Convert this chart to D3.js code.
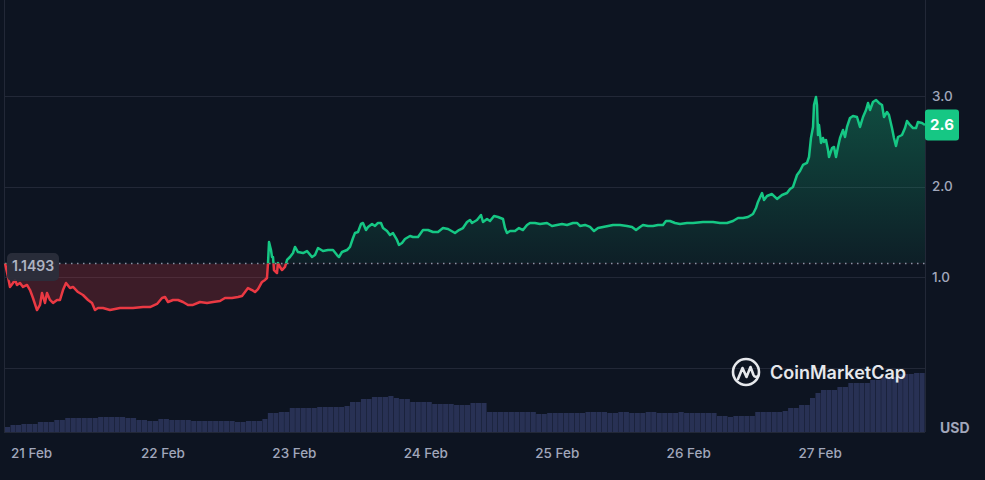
<!DOCTYPE html>
<html><head><meta charset="utf-8">
<script src="https://cdn.jsdelivr.net/npm/d3@7"></script>
<style>
html,body{margin:0;padding:0;background:#0d1421;}
svg{display:block;font-family:Inter,"Noto Sans",sans-serif;}
</style></head><body>
<svg id="chart" width="985" height="480"></svg>
<script>
// ---- data ----
const startTime = Date.UTC(2024, 1, 20, 19, 15); // first sample, 20 Feb 19:15 UTC
// hours after startTime
const hours = [
0,0.55,0.91,1.46,1.83,2.19,2.74,3.29,4.02,4.57,
5.11,5.84,6.39,6.76,7.30,7.67,8.22,8.77,9.50,10.04,
10.59,11.14,11.87,12.42,13.33,14.24,15.16,15.89,16.43,16.98,
17.90,19.17,21.00,23.37,25.20,26.48,27.76,28.67,29.22,29.77,
30.68,31.59,32.50,33.42,34.33,35.61,36.89,37.98,39.26,40.17,
41.45,42.55,43.28,43.83,44.37,45.10,45.65,46.20,46.93,47.48,
47.84,48.03,48.21,48.57,48.76,48.94,49.12,49.67,49.85,50.22,
50.58,51.13,51.50,52.04,52.59,52.96,53.50,54.42,55.15,56.06,
56.61,57.16,58.07,58.98,59.90,60.63,60.99,61.54,62.45,63.00,
63.55,63.91,64.46,65.01,65.37,65.92,66.29,67.02,67.57,68.11,
68.66,69.03,69.76,70.30,70.85,71.58,71.95,72.50,73.04,73.96,
74.50,75.42,76.33,77.24,78.16,79.07,79.98,80.90,82.17,82.90,
83.63,84.37,84.91,85.28,86.19,86.92,87.29,88.02,88.57,89.30,
90.03,90.94,91.30,91.67,92.22,93.13,93.86,94.59,95.32,95.87,
96.78,97.70,98.97,99.89,100.80,101.71,102.63,103.72,104.45,105.00,
105.91,106.83,107.56,108.29,109.20,110.12,111.03,112.30,113.58,114.50,
115.23,115.96,116.50,117.42,118.33,119.24,120.16,120.70,121.43,122.35,
123.26,124.54,125.63,127.46,129.29,130.57,131.84,132.94,133.85,134.77,
135.68,136.59,137.14,137.50,138.24,138.60,139.15,140.06,140.97,141.89,
142.80,143.35,143.90,144.63,145.17,145.72,146.45,146.82,147.18,147.55,
147.73,148.09,148.28,148.46,148.64,149.01,149.37,149.56,149.92,150.29,
150.47,151.02,151.38,151.75,152.11,152.48,153.03,153.39,153.76,154.30,
154.85,155.58,156.13,156.68,157.23,157.59,157.96,158.50,159.05,159.60,
160.15,160.51,161.06,161.42,161.97,162.33,162.70,163.07,163.80,164.35,
164.71,165.26,165.81,166.36,166.72,167.45,168.00
];
// price in USD
const prices = [
1.152,1.000,0.890,0.934,0.967,0.912,0.934,0.890,0.912,0.856,
0.768,0.635,0.691,0.823,0.713,0.823,0.746,0.713,0.746,0.746,
0.856,0.934,0.878,0.890,0.834,0.801,0.746,0.713,0.635,0.657,
0.657,0.635,0.657,0.657,0.668,0.668,0.702,0.768,0.779,0.724,
0.746,0.746,0.724,0.691,0.691,0.724,0.713,0.724,0.735,0.768,
0.768,0.779,0.790,0.834,0.878,0.856,0.834,0.867,0.945,0.967,
0.989,1.155,1.387,1.298,1.221,1.221,1.077,1.044,1.155,1.111,
1.077,1.111,1.188,1.221,1.265,1.332,1.276,1.265,1.287,1.221,
1.243,1.320,1.287,1.298,1.298,1.243,1.221,1.276,1.298,1.332,
1.431,1.486,1.497,1.586,1.597,1.519,1.553,1.586,1.564,1.597,
1.597,1.541,1.508,1.464,1.486,1.409,1.354,1.376,1.420,1.453,
1.442,1.442,1.519,1.519,1.497,1.497,1.541,1.530,1.486,1.519,
1.541,1.608,1.630,1.597,1.630,1.685,1.608,1.641,1.619,1.674,
1.663,1.641,1.541,1.486,1.508,1.508,1.541,1.519,1.575,1.597,
1.597,1.586,1.597,1.564,1.575,1.586,1.575,1.597,1.597,1.564,
1.575,1.553,1.508,1.541,1.553,1.564,1.575,1.575,1.564,1.553,
1.519,1.553,1.575,1.564,1.564,1.575,1.575,1.619,1.619,1.597,
1.586,1.597,1.597,1.608,1.608,1.597,1.597,1.619,1.652,1.652,
1.663,1.696,1.762,1.829,1.928,1.851,1.895,1.917,1.862,1.906,
1.928,1.972,1.995,2.127,2.171,2.238,2.260,2.326,2.536,2.658,
2.901,2.989,2.901,2.569,2.680,2.481,2.536,2.492,2.514,2.403,
2.326,2.425,2.437,2.326,2.437,2.536,2.624,2.547,2.658,2.757,
2.779,2.768,2.658,2.768,2.845,2.923,2.845,2.934,2.956,2.923,
2.901,2.768,2.823,2.790,2.646,2.536,2.448,2.547,2.569,2.646,
2.724,2.680,2.646,2.646,2.713,2.702,2.680
];
// hourly volume (relative units, one value per hour)
const volumes = [
5,7,7,8,8,8,10,10,10,12,
12,14,14,14,14,14,14,15,15,15,
15,15,14,14,12,12,11,11,13,13,
12,12,12,12,11,11,11,11,11,11,
11,11,10,10,11,11,11,13,19,19,
20,20,24,24,24,24,24,25,25,25,
25,25,26,30,30,33,33,35,35,35,
36,34,33,33,30,30,30,30,28,28,
28,28,27,27,27,29,29,29,20,20,
20,20,20,20,20,20,20,18,18,19,
19,19,19,19,19,19,20,20,20,20,
19,19,20,20,19,19,19,20,20,19,
19,19,19,20,19,19,19,19,19,19,
16,16,15,16,16,16,16,20,20,20,
20,20,21,24,24,27,27,34,39,42,
42,42,45,45,49,49,49,49,52,52,
55,55,55,58,58,58,59,59
];
const priceTicks = [1, 2, 3];
const baselinePrice = 1.1493;
const currency = "USD";
const brand = "CoinMarketCap";

// ---- layout ----
const W = 985, H = 480;
const left = 5, right = 925;
const priceTop = 5.5, priceBottom = 367.5;
const volTop = 368, volBottom = 432;
const GREEN = "#16c784", RED = "#ea3943", GRID = "#222837", TEXT = "#a1a7bb";

const svg = d3.select("#chart");
svg.append("rect").attr("width", W).attr("height", H).attr("fill", "#0d1421");

const x = d3.scaleUtc()
  .domain([new Date(startTime), new Date(startTime + 168 * 3600e3)])
  .range([left, right]);
const y = d3.scaleLinear().domain([0, 4]).range([priceBottom, priceTop]);
const yv = d3.scaleLinear().domain([0, 64]).range([volBottom, volTop]);

const data = hours.map((h, i) => ({ t: new Date(startTime + h * 3600e3), v: prices[i] }));
const yb = y(baselinePrice);

// ---- grid & borders ----
const grid = svg.append("g").attr("stroke", GRID).attr("stroke-width", 1).attr("shape-rendering", "crispEdges");
[0, ...priceTicks].forEach(v => {
  grid.append("line").attr("x1", left - 1).attr("x2", right).attr("y1", Math.round(y(v)) + 0.5).attr("y2", Math.round(y(v)) + 0.5);
});
grid.append("line").attr("x1", left - 1).attr("x2", right).attr("y1", volBottom + 0.5).attr("y2", volBottom + 0.5);
grid.append("line").attr("x1", left - 0.5).attr("x2", left - 0.5).attr("y1", 0).attr("y2", volBottom);
grid.append("line").attr("x1", right + 0.5).attr("x2", right + 0.5).attr("y1", 0).attr("y2", volBottom);

// ---- volume bars ----
const step = (x(new Date(startTime + 3600e3)) - x(new Date(startTime)));
svg.append("g").selectAll("rect").data(volumes).join("rect")
  .attr("x", (d, i) => x(new Date(startTime + i * 3600e3)))
  .attr("width", step - 0.35)
  .attr("y", d => yv(d))
  .attr("height", d => yv(0) - yv(d))
  .attr("fill", "#283154");

// ---- clip paths & gradient ----
const defs = svg.append("defs");
defs.append("clipPath").attr("id", "above").append("rect")
  .attr("x", 0).attr("y", 0).attr("width", W).attr("height", yb);
defs.append("clipPath").attr("id", "below").append("rect")
  .attr("x", 0).attr("y", yb).attr("width", W).attr("height", H - yb);
const g = defs.append("linearGradient").attr("id", "gUp")
  .attr("gradientUnits", "userSpaceOnUse").attr("x1", 0).attr("x2", 0)
  .attr("y1", y(3)).attr("y2", yb);
g.append("stop").attr("offset", 0).attr("stop-color", GREEN).attr("stop-opacity", 0.32);
g.append("stop").attr("offset", 1).attr("stop-color", GREEN).attr("stop-opacity", 0.06);

const area = d3.area().x(d => x(d.t)).y0(yb).y1(d => y(d.v));
const line = d3.line().x(d => x(d.t)).y(d => y(d.v));

svg.append("path").datum(data).attr("d", area).attr("fill", "url(#gUp)").attr("clip-path", "url(#above)");
svg.append("path").datum(data).attr("d", area).attr("fill", RED).attr("fill-opacity", 0.22).attr("clip-path", "url(#below)");

// baseline dotted line
svg.append("line").attr("x1", left).attr("x2", right).attr("y1", yb).attr("y2", yb)
  .attr("stroke", "#8a91a3").attr("stroke-width", 1.5).attr("stroke-dasharray", "1.5,4.5");

svg.append("path").datum(data).attr("d", line).attr("fill", "none").attr("stroke", GREEN)
  .attr("stroke-width", 2.5).attr("stroke-linejoin", "round").attr("clip-path", "url(#above)");
svg.append("path").datum(data).attr("d", line).attr("fill", "none").attr("stroke", RED)
  .attr("stroke-width", 2.5).attr("stroke-linejoin", "round").attr("clip-path", "url(#below)");

// ---- axes ----
const ay = svg.append("g").attr("transform", `translate(${right},0)`)
  .call(d3.axisRight(y).tickValues(priceTicks).tickSize(0).tickPadding(7).tickFormat(d3.format(".1f")));
ay.select(".domain").remove();
ay.selectAll("text").attr("fill", TEXT).attr("font-size", 13.5).attr("font-weight", 500).attr("font-family", "Inter, sans-serif");

const ax = svg.append("g").attr("transform", `translate(0,${volBottom})`)
  .call(d3.axisBottom(x).ticks(d3.utcDay.every(1)).tickFormat(d3.utcFormat("%-d %b")).tickSize(0).tickPadding(16));
ax.select(".domain").remove();
ax.selectAll("text").attr("fill", TEXT).attr("font-size", 13.5).attr("font-weight", 500).attr("font-family", "Inter, sans-serif");

svg.append("text").attr("x", 940).attr("y", 433).text(currency)
  .attr("fill", TEXT).attr("font-size", 14).attr("font-weight", 700);

// ---- baseline badge ----
svg.append("rect").attr("x", 7).attr("y", yb - 10.5).attr("width", 52).attr("height", 28).attr("rx", 5)
  .attr("fill", "#2a2f3c").attr("fill-opacity", 0.92);
svg.append("text").attr("x", 33).attr("y", yb + 3.5).attr("text-anchor", "middle").attr("dominant-baseline", "middle")
  .text(d3.format(".4f")(baselinePrice)).attr("fill", "#aeb3c2").attr("font-size", 14).attr("font-weight", 600);

// ---- last price badge ----
const last = data[data.length - 1];
svg.append("rect").attr("x", right).attr("y", y(last.v) - 15.5).attr("width", 34).attr("height", 31).attr("rx", 3)
  .attr("fill", GREEN);
svg.append("text").attr("x", right + 17).attr("y", y(last.v) + 0.5).attr("text-anchor", "middle").attr("dominant-baseline", "middle")
  .text(String(Math.floor(last.v * 10) / 10)).attr("fill", "#ffffff").attr("font-size", 15).attr("font-weight", 700);

// ---- watermark ----
const logo = svg.append("g").attr("transform", "translate(746,372)");
logo.append("circle").attr("r", 13).attr("fill", "none").attr("stroke", "#e6e8ec").attr("stroke-width", 2.6);
logo.append("path").attr("d", "M-8,7 L-3.5,-4 L0.5,5 L4.5,-5 L7.5,3 Q9,6 12,4")
  .attr("fill", "none").attr("stroke", "#e6e8ec").attr("stroke-width", 2.6).attr("stroke-linejoin", "round").attr("stroke-linecap", "round");
svg.append("text").attr("x", 770).attr("y", 378.5).text(brand)
  .attr("fill", "#e6e8ec").attr("font-size", 18).attr("font-weight", 600);
</script>
</body></html>
